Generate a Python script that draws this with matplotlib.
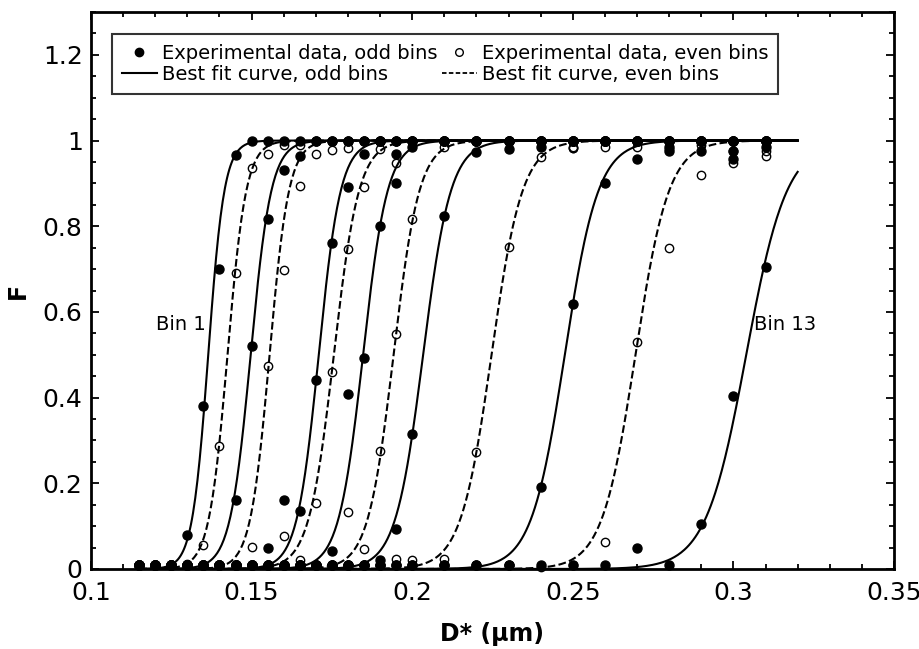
import numpy as np
import matplotlib
matplotlib.use("Agg")
import matplotlib.pyplot as plt
from matplotlib.lines import Line2D
from matplotlib.ticker import MultipleLocator, FuncFormatter

plt.rcParams["font.family"] = ["DejaVu Sans"]

# D* values at which the bins were measured (um)
d_star = [0.115, 0.12, 0.125, 0.13, 0.135, 0.14, 0.145, 0.15, 0.155, 0.16,
          0.165, 0.17, 0.175, 0.18, 0.185, 0.19, 0.195, 0.2, 0.21, 0.22,
          0.23, 0.24, 0.25, 0.26, 0.27, 0.28, 0.29, 0.30, 0.31]

# measured F per bin (odd bins filled, even bins open)
f_bin1 = [0.01, 0.01, 0.01, 0.08, 0.38, 0.70, 0.967, 1, 1, 1, 1, 1, 1, 1, 1,
          1, 1, 1, 1, 1, 1, 1, 1, 1, 1, 1, 1, 1, 1]
f_bin2 = [0.01, 0.01, 0.01, 0.012, 0.055, 0.287, 0.69, 0.935, 0.969, 0.989,
          0.99, 1, 1, 0.982, 1, 1, 1, 1, 1, 1, 1, 1, 0.982, 1, 1, 1, 1, 0.975, 1]
f_bin3 = [0.01, 0.01, 0.01, 0.01, 0.01, 0.01, 0.16, 0.52, 0.818, 0.932,
          0.965, 1, 1, 1, 1, 1, 1, 1, 1, 1, 1, 1, 1, 1, 1, 1, 1, 1, 1]
f_bin4 = [0.01, 0.01, 0.01, 0.01, 0.01, 0.01, 0.01, 0.052, 0.473, 0.698,
          0.895, 0.969, 0.977, 1, 1, 1, 1, 1, 1, 1, 1, 1, 1, 0.985, 1, 1,
          0.99, 1, 1]
f_bin5 = [0.01, 0.01, 0.01, 0.01, 0.01, 0.01, 0.01, 0.01, 0.05, 0.16,
          0.135, 0.44, 0.762, 0.892, 0.969, 1, 0.969, 1, 1, 1, 1, 1, 1, 1,
          1, 0.975, 1, 1, 1]
f_bin6 = [0.01, 0.01, 0.01, 0.01, 0.01, 0.01, 0.01, 0.01, 0.01, 0.078,
          0.02, 0.153, 0.46, 0.748, 0.892, 0.98, 0.947, 1, 1, 1, 1, 1,
          0.982, 1, 1, 1, 1, 1, 0.975]
f_bin7 = [0.01, 0.01, 0.01, 0.01, 0.01, 0.01, 0.01, 0.01, 0.01, 0.01,
          0.01, 0.01, 0.041, 0.408, 0.493, 0.80, 0.90, 0.985, 1, 1, 1, 1,
          1, 1, 1, 1, 0.975, 0.975, 1]
f_bin8 = [0.01, 0.01, 0.01, 0.01, 0.01, 0.01, 0.01, 0.01, 0.01, 0.01,
          0.01, 0.01, 0.01, 0.132, 0.047, 0.275, 0.549, 0.818, 0.985, 1, 1,
          1, 1, 1, 0.985, 1, 1, 1, 1]
f_bin9 = [0.01, 0.01, 0.01, 0.01, 0.01, 0.01, 0.01, 0.01, 0.01, 0.01,
          0.01, 0.01, 0.01, 0.01, 0.01, 0.02, 0.094, 0.314, 0.823, 0.973,
          0.98, 0.985, 1, 1, 1, 1, 1, 0.957, 1]
f_bin10 = [0.01, 0.01, 0.01, 0.01, 0.01, 0.01, 0.01, 0.01, 0.01, 0.01,
           0.01, 0.01, 0.01, 0.01, 0.01, 0.01, 0.024, 0.02, 0.024, 0.272,
           0.752, 0.961, 0.985, 1, 1, 0.98, 1, 1, 1]
f_bin11 = [0.01, 0.01, 0.01, 0.01, 0.01, 0.01, 0.01, 0.01, 0.01, 0.01,
           0.01, 0.01, 0.01, 0.01, 0.01, 0.01, 0.01, 0.01, 0.01, 0.01,
           0.01, 0.192, 0.619, 0.90, 0.956, 0.985, 1, 1, 0.985]
f_bin12 = [0.01, 0.01, 0.01, 0.01, 0.01, 0.01, 0.01, 0.01, 0.01, 0.01,
           0.01, 0.01, 0.01, 0.01, 0.01, 0.01, 0.01, 0.01, 0.01, 0.01,
           0.01, 0.005, 0.01, 0.063, 0.529, 0.75, 0.92, 0.947, 0.965]
f_bin13 = [0.01, 0.01, 0.01, 0.01, 0.01, 0.01, 0.01, 0.01, 0.01, 0.01,
           0.01, 0.01, 0.01, 0.01, 0.01, 0.01, 0.01, 0.01, 0.01, 0.01,
           0.01, 0.01, 0.01, 0.01, 0.05, 0.01, 0.104, 0.403, 0.705]

f_bins = [f_bin1, f_bin2, f_bin3, f_bin4, f_bin5, f_bin6, f_bin7,
          f_bin8, f_bin9, f_bin10, f_bin11, f_bin12, f_bin13]

# best fit (logistic) parameters per bin: D50 and width (um)
fit_d50 = [0.1365, 0.1425, 0.1497, 0.1556, 0.1709, 0.1756, 0.1847,
           0.1942, 0.2034, 0.2247, 0.2475, 0.2695, 0.3040]
fit_width = [0.0025, 0.0029, 0.0032, 0.0030, 0.0034, 0.0039, 0.0038,
             0.0040, 0.0043, 0.0048, 0.0052, 0.0052, 0.0063]
fit_range = (0.115, 0.32)


def fit_curve(d, d50, width):
    return 1.0 / (1.0 + np.exp(-(d - d50) / width))


fig = plt.figure(figsize=(9.2, 6.49), dpi=100)
ax = fig.add_axes([91 / 920, 80 / 649, 803 / 920, 557 / 649])

d_fit = np.linspace(fit_range[0], fit_range[1], 600)
for i, (f, d50, w) in enumerate(zip(f_bins, fit_d50, fit_width)):
    odd = (i % 2 == 0)
    ax.plot(d_fit, fit_curve(d_fit, d50, w), color="black", lw=1.5,
            ls="-" if odd else "--", zorder=2)
    if odd:
        ax.plot(d_star, f, ls="none", marker="o", ms=6.5, color="black",
                zorder=4, clip_on=False)
    else:
        ax.plot(d_star, f, ls="none", marker="o", ms=6, mfc="none",
                mec="black", mew=1.0, zorder=3, clip_on=False)

ax.text(0.1202, 0.57, "Bin 1", fontsize=14, va="center", ha="left")
ax.text(0.3063, 0.57, "Bin 13", fontsize=14, va="center", ha="left")

ax.set_xlim(0.1, 0.35)
ax.set_ylim(0, 1.3)
ax.xaxis.set_major_locator(MultipleLocator(0.05))
ax.xaxis.set_minor_locator(MultipleLocator(0.01))
ax.yaxis.set_major_locator(MultipleLocator(0.2))
ax.yaxis.set_minor_locator(MultipleLocator(0.05))
fmt = FuncFormatter(lambda v, pos: "%g" % round(v, 3))
ax.xaxis.set_major_formatter(fmt)
ax.yaxis.set_major_formatter(fmt)
ax.tick_params(which="both", direction="in", top=True, right=True,
               width=1.3, labelsize=18)
ax.tick_params(which="major", length=6, pad=6)
ax.tick_params(axis="x", which="major", pad=9)
ax.tick_params(which="minor", length=3.5)
for sp in ax.spines.values():
    sp.set_linewidth(2)

ax.set_xlabel("D* (\u00b5m)", fontsize=17, fontweight="bold", labelpad=12)
ax.set_ylabel("F", fontsize=17, fontweight="bold", labelpad=9)

handles = [
    Line2D([], [], ls="none", marker="o", ms=6, color="black"),
    Line2D([], [], ls="-", lw=1.5, color="black"),
    Line2D([], [], ls="none", marker="o", ms=5.5, mfc="none", mec="black"),
    Line2D([], [], ls="--", lw=1.3, color="black", dashes=(2.5, 1.3)),
]
labels = ["Experimental data, odd bins", "Best fit curve, odd bins",
          "Experimental data, even bins", "Best fit curve, even bins"]
leg = ax.legend(handles, labels, ncol=2, loc="upper left",
                bbox_to_anchor=(21 / 803, 1 - 22 / 557), fontsize=14,
                frameon=True, fancybox=False, edgecolor="black",
                handlelength=1.8, handletextpad=0.25, columnspacing=0.25,
                labelspacing=0.12, borderpad=0.5, borderaxespad=0)
leg.get_frame().set_linewidth(1.5)

fig.savefig("out.png", dpi=100)
